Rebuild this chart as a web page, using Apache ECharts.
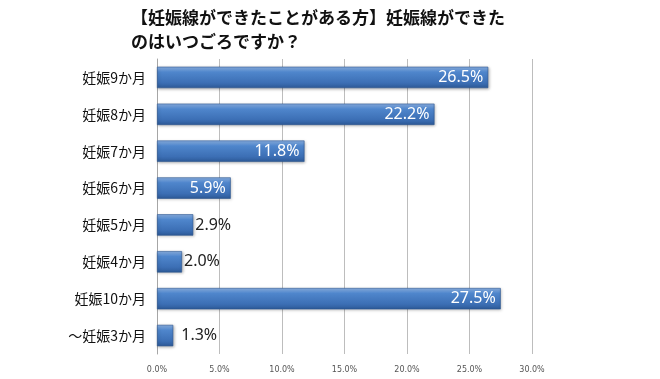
<!DOCTYPE html>
<html><head><meta charset="utf-8">
<script src="https://cdn.jsdelivr.net/npm/echarts@6/dist/echarts.min.js"></script>
<style>html,body{margin:0;padding:0;background:#fff}#c{width:660px;height:379px}</style>
</head><body><div id="c"></div>
<script>
const categories = ['妊娠9か月','妊娠8か月','妊娠7か月','妊娠6か月','妊娠5か月','妊娠4か月','妊娠10か月','～妊娠3か月'];
const values = [26.5, 22.2, 11.8, 5.9, 2.9, 2.0, 27.5, 1.3];
const insideLabel = [true, true, true, true, false, false, true, false];
const titleLines = ['【妊娠線ができたことがある方】妊娠線ができた', 'のはいつごろですか？'];

const chart = echarts.init(document.getElementById('c'), null, {renderer:'canvas'});
const barColor = new echarts.graphic.LinearGradient(0,0,0,1,[
  {offset:0, color:'#8db3e6'},
  {offset:0.25, color:'#4f86cc'},
  {offset:0.75, color:'#3c6fb5'},
  {offset:1, color:'#2d5a98'}
]);
chart.setOption({
  animation:false,
  title:{
    text: titleLines.join('\n'),
    left: 126, top: 1,
    textStyle:{fontFamily:'Noto Sans CJK JP', fontSize:17, fontWeight:'bold', color:'#111', lineHeight:24}
  },
  grid:{left:157, right:128, top:59, bottom:25},
  xAxis:{
    type:'value', min:0, max:30, interval:5,
    axisLabel:{formatter:v=>v.toFixed(1)+'%', fontSize:8, color:'#555', margin:12, fontFamily:'DejaVu Sans'},
    splitLine:{lineStyle:{color:'#bdbdbd', width:1}},
    axisLine:{show:false}, axisTick:{show:false}
  },
  yAxis:{
    type:'category', data:categories, inverse:true,
    axisLabel:{fontSize:14, color:'#111', margin:11, fontFamily:'Noto Sans CJK JP'},
    axisLine:{show:true, lineStyle:{color:'#a6a6a6'}}, axisTick:{show:false}
  },
  series:[{
    type:'bar',
    barCategoryGap:'42%',
    data: values.map((v,i)=>({
      value:v,
      label:insideLabel[i]
        ? {position:'insideRight', color:'#fff', distance:5}
        : {position:'right', color:'#222', distance: i===7 ? 8 : 2}
    })),
    itemStyle:{color:barColor, borderColor:'#2b5691', borderWidth:0.6, shadowColor:'rgba(0,0,0,0.3)', shadowBlur:3, shadowOffsetX:1, shadowOffsetY:1},
    label:{show:true, formatter:p=>p.value.toFixed(1)+'%', fontSize:16, fontFamily:'Noto Sans'}
  }]
});
</script></body></html>
